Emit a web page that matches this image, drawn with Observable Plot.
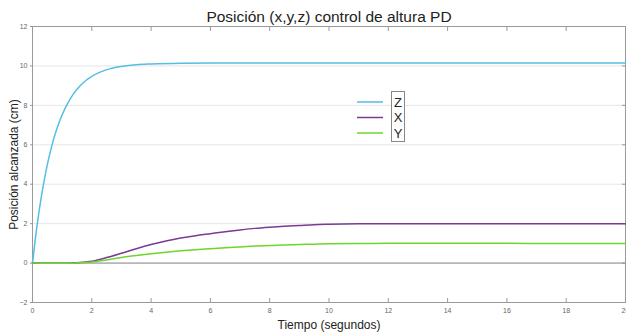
<!DOCTYPE html>
<html><head><meta charset="utf-8">
<script src="https://cdn.jsdelivr.net/npm/d3@7"></script>
<script src="https://cdn.jsdelivr.net/npm/@observablehq/plot@0.6"></script>
<style>body{margin:0;background:#fff;font-family:"Liberation Sans",Arial,sans-serif}</style>
</head><body><div id="chart"></div>
<script>
const title = "Posición (x,y,z) control de altura PD";
const xLabel = "Tiempo (segundos)";
const yLabel = "Posición alcanzada (cm)";
const xTicks = [0,2,4,6,8,10,12,14,16,18,20];
const yTicks = [-2,0,2,4,6,8,10,12];
const seriesNames = ["Z","X","Y"];
const seriesColors = ["#55bde6","#7b3a93","#6cd62c"];

const tZ = [0,0.1,0.2,0.3,0.4,0.5,0.6,0.7,0.8,0.9,1.0,1.1,1.2,1.4,1.6,1.8,2.0,2.3,2.6,3.0,3.5,4,5,6,8,12,16,20];
const vZ = [0,1.28,2.40,3.38,4.23,4.99,5.64,6.21,6.71,7.14,7.52,7.85,8.14,8.62,8.98,9.26,9.47,9.70,9.85,9.97,10.06,10.10,10.14,10.15,10.15,10.15,10.15,10.15];

const tX = [0,0.5,1,1.5,2,2.5,3,3.5,4,4.5,5,5.5,6,6.5,7,7.5,8,8.5,9,9.5,10,11,12,14,16,18,20];
const vX = [0,-0.01,-0.01,0.02,0.09,0.28,0.50,0.73,0.94,1.12,1.27,1.39,1.49,1.59,1.68,1.76,1.82,1.87,1.91,1.95,1.97,1.99,2.0,2.0,2.0,2.0,1.99];

const tY = [0,0.5,1,1.5,2,2.5,3,3.5,4,4.5,5,5.5,6,6.5,7,7.5,8,8.5,9,9.5,10,11,12,14,16,18,20];
const vY = [0,-0.01,-0.01,0.01,0.05,0.16,0.28,0.38,0.47,0.55,0.62,0.68,0.73,0.78,0.82,0.86,0.89,0.92,0.94,0.96,0.98,0.99,1.0,1.0,1.0,0.99,0.99];

const data = [
  ...tZ.map((t,i)=>({t, v:vZ[i], s:"Z"})),
  ...tX.map((t,i)=>({t, v:vX[i], s:"X"})),
  ...tY.map((t,i)=>({t, v:vY[i], s:"Y"}))
];

const chart = Plot.plot({
  width: 626, height: 335,
  marginLeft: 32, marginRight: 1, marginTop: 26, marginBottom: 33,
  style: {fontFamily: "Liberation Sans, Arial, sans-serif", background: "#fff"},
  x: {domain: [0,20]},
  y: {domain: [-2,12]},
  color: {domain: seriesNames, range: seriesColors},
  marks: [
    Plot.gridY(yTicks, {stroke: "#e6e6e6", strokeOpacity: 1}),
    Plot.ruleY([0], {stroke: "#8a8a8a", strokeWidth: 1}),
    Plot.frame({stroke: "#9a9a9a"}),
    Plot.axisX(xTicks, {anchor: "bottom", tickSize: -4, tickPadding: 10, fontSize: 7, fill: "#666", stroke: "#999", label: null}),
    Plot.axisX(xTicks, {anchor: "top", tickSize: -4, tickFormat: () => "", stroke: "#999", label: null}),
    Plot.axisY(yTicks, {anchor: "left", tickSize: 2, tickPadding: 3, fontSize: 7, fill: "#666", stroke: "#999", label: null}),
    Plot.axisY(yTicks, {anchor: "right", tickSize: -4, tickFormat: () => "", stroke: "#999", label: null}),
    Plot.line(data, {x: "t", y: "v", z: "s", stroke: "s", strokeWidth: 1.5, curve: "monotone-x"}),
    Plot.text([title], {frameAnchor: "top", dy: -16, fontSize: 15.5, fill: "#222"}),
    Plot.text([xLabel], {frameAnchor: "bottom", dy: 26, fontSize: 12, fill: "#222"}),
    Plot.text([yLabel], {frameAnchor: "left", textAnchor: "middle", dx: -18, rotate: -90, fontSize: 12, fill: "#222"})
  ]
});
document.getElementById("chart").appendChild(chart);

// legend (positioned in the svg over the plot)
const svg = d3.select(chart);
const lg = svg.append("g").attr("font-family","Liberation Sans, Arial, sans-serif");
lg.append("rect").attr("x",391.5).attr("y",91.5).attr("width",13).attr("height",50)
  .attr("fill","#fff").attr("stroke","#888");
seriesNames.forEach((n,i)=>{
  const y = 102 + i*15.5;
  lg.append("line").attr("x1",357).attr("x2",383).attr("y1",y).attr("y2",y)
    .attr("stroke",seriesColors[i]).attr("stroke-width",1.5);
  lg.append("text").attr("x",398).attr("y",y).attr("dy","0.36em").attr("text-anchor","middle")
    .attr("font-size",13).attr("fill","#222").text(n);
});
</script></body></html>
